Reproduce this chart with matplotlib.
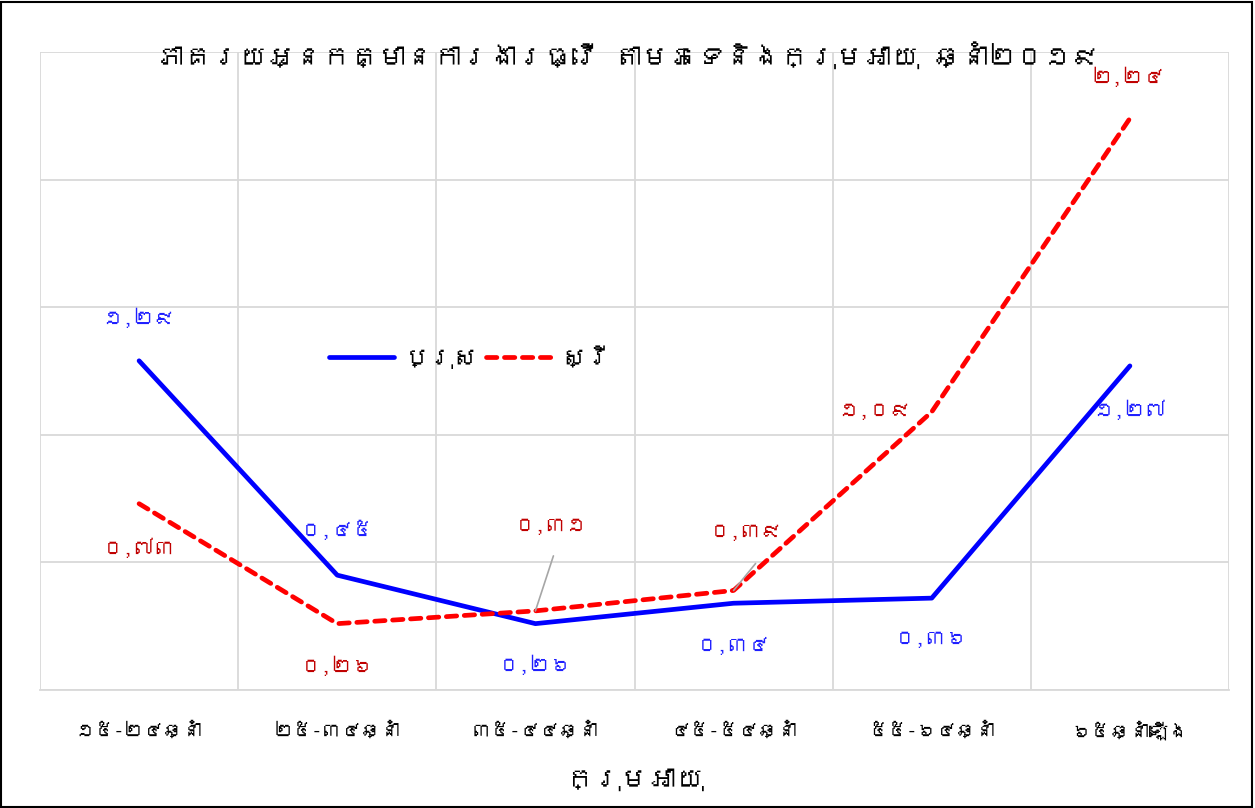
import matplotlib
matplotlib.use('Agg')
import matplotlib.pyplot as plt
from matplotlib import font_manager, ft2font

# ទិន្នន័យ
age_groups = ['១៥-២៤ឆ្នាំ', '២៥-៣៤ឆ្នាំ', '៣៥-៤៤ឆ្នាំ', '៤៥-៥៤ឆ្នាំ', '៥៥-៦៤ឆ្នាំ', '៦៥ឆ្នាំឡើង']
male = [1.29, 0.45, 0.26, 0.34, 0.36, 1.27]
female = [0.73, 0.26, 0.31, 0.39, 1.09, 2.24]

title = 'ភាគរយអ្នកគ្មានការងារធ្វើ តាមភេទនិងក្រុមអាយុ ឆ្នាំ២០១៩'
xlabel = 'ក្រុមអាយុ'
legend_labels = ['ប្រុស', 'ស្រី']

# រកពុម្ពអក្សរដែលមានអក្សរខ្មែរ
khmer_font = None
for f in font_manager.fontManager.ttflist:
    try:
        if 0x1780 in ft2font.FT2Font(f.fname).get_charmap():
            khmer_font = f.name
            break
    except Exception:
        pass
families = [khmer_font, 'DejaVu Sans'] if khmer_font else ['DejaVu Sans']
plt.rcParams['font.family'] = families

khmer_digits = str.maketrans('0123456789.', '០១២៣៤៥៦៧៨៩,')


def kh(v):
    return f'{v:.2f}'.translate(khmer_digits)


fig = plt.figure(figsize=(12.55, 8.08), dpi=100)
ax = fig.add_axes([40 / 1255, 118 / 808, 1189 / 1255, 638 / 808])

x = list(range(len(age_groups)))
l1, = ax.plot(x, male, color='#0000ff', lw=3.4, solid_capstyle='round')
l2, = ax.plot(x, female, color='#ff0000', lw=3.4, ls=(0, (2.2, 1.6)), dash_capstyle='round')

ax.set_xlim(-0.5, 5.5)
ax.set_ylim(0, 2.5)
ax.set_yticks([0, 0.5, 1.0, 1.5, 2.0, 2.5])
ax.set_yticklabels([])
ax.set_xticks([i - 0.5 for i in range(7)], minor=False)
ax.set_xticklabels([])
ax.set_xticks(x, minor=True)
ax.set_xticklabels(age_groups, minor=True, fontsize=14)
ax.tick_params(which='both', length=0)
ax.tick_params(axis='x', which='minor', pad=22)
ax.grid(True, which='major', color='#d9d9d9', lw=1.3)
for s in ax.spines.values():
    s.set_visible(False)
ax.spines['bottom'].set_visible(True)
ax.spines['bottom'].set_color('#d9d9d9')
ax.spines['bottom'].set_linewidth(1.3)
ax.set_axisbelow(True)

ax.set_xlabel(xlabel, fontsize=20, labelpad=20)
fig.text(0.5, 0.932, title, ha='center', va='center', fontsize=20)

# ស្លាកទិន្នន័យ (offset in pixels)
male_off = [(0, 43), (0, 45), (0, -41), (0, -43), (0, -41), (0, -44)]
female_off = [(0, -44), (0, -42), (16, 85), (13, 58), (-57, 1), (-2, 42)]
blue_txt = '#1f1fff'
red_txt = '#c00000'
for i in x:
    ax.annotate(kh(male[i]), (i, male[i]), xytext=male_off[i], textcoords='offset pixels',
                ha='center', va='center', fontsize=15, color=blue_txt)
    ax.annotate(kh(female[i]), (i, female[i]), xytext=female_off[i], textcoords='offset pixels',
                ha='center', va='center', fontsize=15, color=red_txt)
# leader lines
ax.annotate('', (2, female[2]), xytext=(18, 55), textcoords='offset pixels',
            arrowprops=dict(arrowstyle='-', color='#a6a6a6', lw=1.2, shrinkA=0, shrinkB=0))
ax.annotate('', (3, female[3]), xytext=(22, 27), textcoords='offset pixels',
            arrowprops=dict(arrowstyle='-', color='#a6a6a6', lw=1.2, shrinkA=0, shrinkB=0))

fig.legend([l1, l2], legend_labels, loc='center', bbox_to_anchor=(470 / 1255, 1 - 358 / 808),
           ncol=2, frameon=False, fontsize=18, handlelength=2.6, columnspacing=0.3, handletextpad=0.4)

fig.patches.append(plt.Rectangle((0.001, 0.001), 0.997, 0.997, transform=fig.transFigure,
                                 fill=False, edgecolor='black', lw=1.5))

fig.savefig('out.png', dpi=100)
